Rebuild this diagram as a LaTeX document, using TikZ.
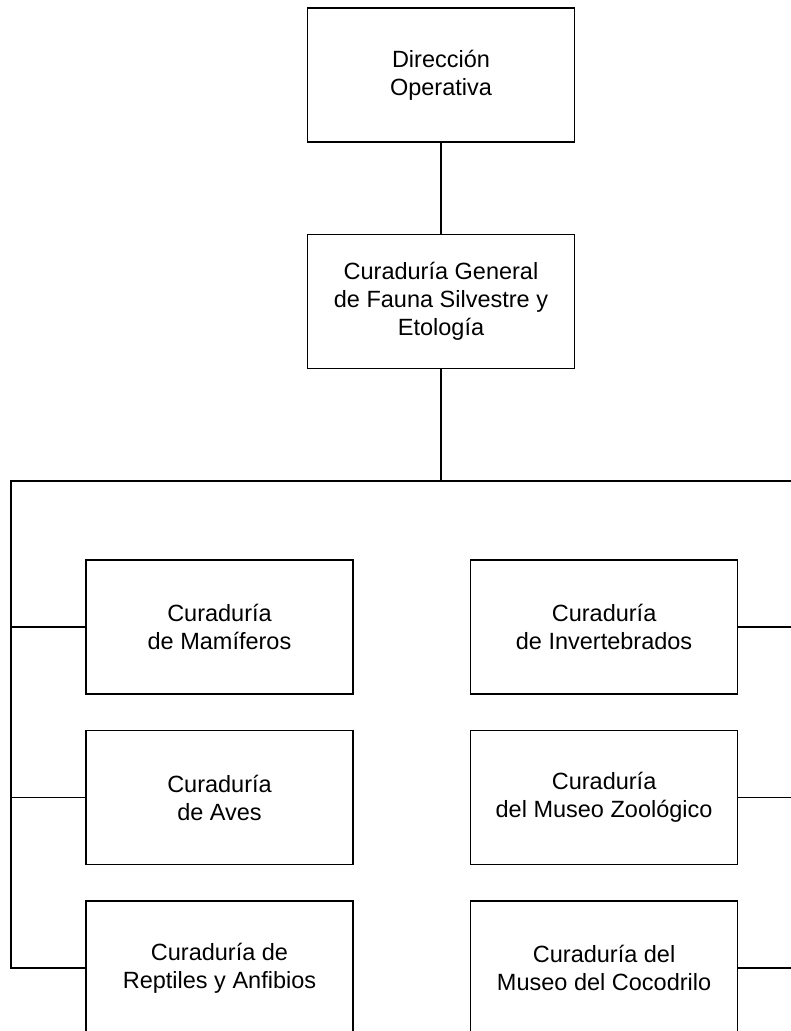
\documentclass[tikz,border=0pt]{standalone}
\usepackage{fontspec}
\setmainfont{Liberation Sans}
\usetikzlibrary{positioning}

\begin{document}
\begin{tikzpicture}[
    x=1pt, y=-1pt,
    node distance=35pt and 116pt,
    every node/.style={font=\fontsize{23.5}{28}\selectfont},
    unit/.style={draw, line width=1.6pt, minimum width=267pt, minimum height=134pt,
                 inner sep=0pt, align=center},
    link/.style={line width=1.6pt}
]
    \useasboundingbox (0,0) rectangle (791,1031);
    \clip (0,0) rectangle (791,1031);

    % top of the chart
    \node[unit] (dir) at (441,75) {Dirección\\Operativa};
    \node[unit] (gen) [below=91pt of dir] {Curaduría General\\de Fauna Silvestre y\\Etología};

    % curadurías in two columns
    \node[unit] (mam) at (219.5,627) {Curaduría\\de Mamíferos};
    \node[unit] (ave) [below=of mam] {Curaduría\\de Aves};
    \node[unit] (rep) [below=of ave] {Curaduría de\\Reptiles y Anfibios};
    \node[unit] (inv) [right=of mam] {Curaduría\\de Invertebrados};
    \node[unit] (mus) [right=of ave] {Curaduría\\del Museo Zoológico};
    \node[unit] (coc) [right=of rep] {Curaduría del\\Museo del Cocodrilo};

    \coordinate (bus) at (441,481);
    \coordinate (lbus) at (11,481);
    \coordinate (rbus) at (797,481);

    \draw [link] (dir) -- (gen);
    \draw [link] (gen) -- (bus);
    \draw [link] (coc) -| (rbus) -- (lbus) |- (rep);
    \draw [link] (lbus |- mam) -- (mam);
    \draw [link] (lbus |- ave) -- (ave);
    \draw [link] (inv) -- (rbus |- inv);
    \draw [link] (mus) -- (rbus |- mus);
\end{tikzpicture}
\end{document}
